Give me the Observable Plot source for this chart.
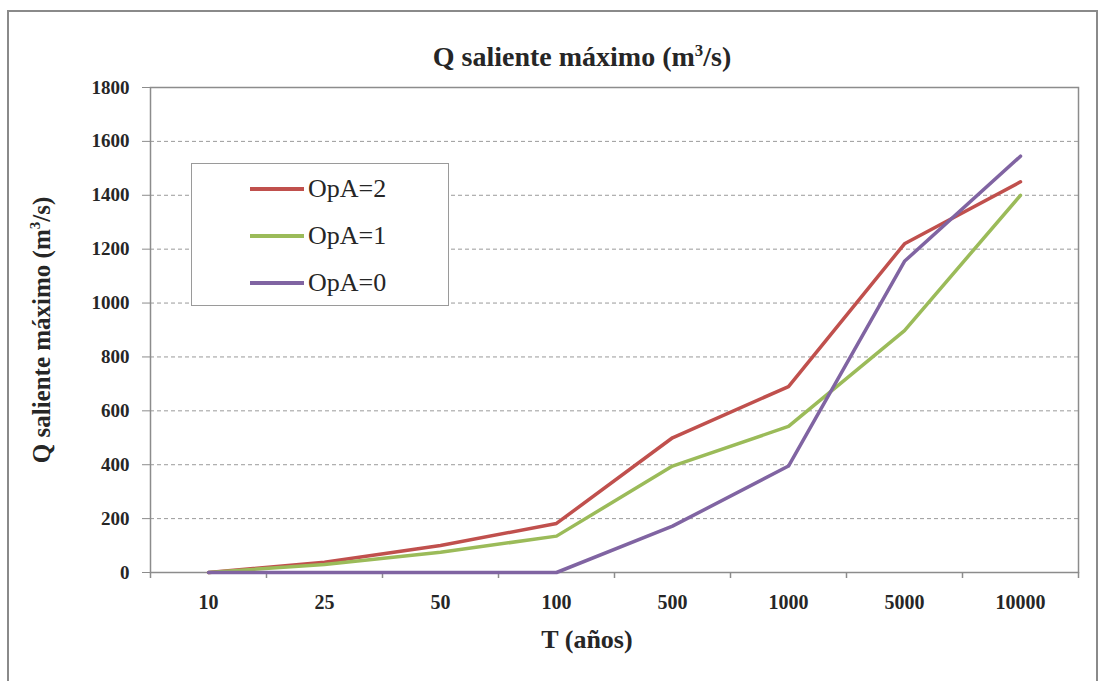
<!DOCTYPE html>
<html>
<head>
<meta charset="utf-8">
<script src="https://cdn.jsdelivr.net/npm/d3@7"></script>
<script src="https://cdn.jsdelivr.net/npm/@observablehq/plot@0.6"></script>
<style>
  html, body { margin: 0; padding: 0; background: #fff; overflow: hidden; }
  #wrap { position: relative; width: 1100px; height: 681px; font-family: "Liberation Serif", serif; color: #262626; }
  #frame { position: absolute; left: 7px; top: 10px; width: 1091px; height: 700px; border: 2px solid #8a8a8a; box-sizing: border-box; }
  #title { position: absolute; top: 57px; left: 582px; transform: translate(-50%, -50%); font-size: 28px; font-weight: bold; white-space: nowrap; line-height: 1; }
  #ytitle { position: absolute; left: 41px; top: 330px; transform: translate(-50%, -50%) rotate(-90deg); font-size: 25px; font-weight: bold; white-space: nowrap; line-height: 1; }
  #xtitle { position: absolute; left: 587px; top: 640px; transform: translate(-50%, -50%); font-size: 26px; font-weight: bold; white-space: nowrap; line-height: 1; }
  #chart { position: absolute; left: 0; top: 70px; }
  #chart svg { font-weight: bold; }
  #legend { position: absolute; left: 191px; top: 163px; width: 258px; height: 143px; border: 1.5px solid #9a9a9a; box-sizing: border-box; background: #fff; }
  .lrow { position: absolute; left: 58px; height: 30px; display: flex; align-items: center; transform: translateY(-50%); }
  .sw { width: 54px; height: 4px; margin-right: 4px; }
  .lt { font-size: 26px; line-height: 1; }
</style>
</head>
<body>
<div id="wrap">
  <div id="frame"></div>
  <div id="title">Q saliente máximo (m<sup style="font-size:0.6em;line-height:0">3</sup>/s)</div>
  <div id="ytitle">Q saliente máximo (m<sup style="font-size:0.6em;line-height:0">3</sup>/s)</div>
  <div id="xtitle">T (años)</div>
  <div id="chart"></div>
  <div id="legend"></div>
</div>
<script>
const categories = ["10", "25", "50", "100", "500", "1000", "5000", "10000"];
const seriesNames = ["OpA=2", "OpA=1", "OpA=0"];
const seriesColors = ["#C0504D", "#9BBB59", "#8064A2"];
const opA2 = [0, 38, 100, 182, 500, 690, 1220, 1450];
const opA1 = [0, 30, 75, 135, 395, 542, 898, 1400];
const opA0 = [0, 0, 0, 0, 172, 395, 1155, 1545];
const yTicks = [0, 200, 400, 600, 800, 1000, 1200, 1400, 1600, 1800];

const seriesValues = [opA2, opA1, opA0];
const rows = [];
seriesNames.forEach((name, s) => {
  categories.forEach((c, i) => rows.push({T: c, Q: seriesValues[s][i], serie: name}));
});

const W = 1100, H = 611, ML = 150, MR = 22, MT = 17, MB = 109;
const step = (W - ML - MR) / categories.length;
const gridVals = yTicks.filter(v => v > 0 && v < 1800);

const chart = Plot.plot({
  width: W, height: H,
  marginLeft: ML, marginRight: MR, marginTop: MT, marginBottom: MB,
  style: {fontFamily: "'Liberation Serif', serif", fontSize: "19px", background: "transparent", color: "#262626"},
  x: {type: "point", domain: categories, padding: 0.5, label: null},
  y: {domain: [0, 1800], label: null},
  color: {domain: seriesNames, range: seriesColors},
  marks: [
    Plot.ruleY(gridVals, {y: d => d, stroke: "#9a9a9a", strokeWidth: 1, strokeDasharray: "4,3"}),
    Plot.frame({stroke: "#8c8c8c", strokeWidth: 1.5}),
    Plot.axisY({ticks: yTicks, tickSize: 8, tickPadding: 13, stroke: "#8c8c8c", fill: "#262626", fontSize: 19, label: null, tickFormat: d => String(d)}),
    Plot.axisX({tickSize: 0, tickPadding: 22, fill: "#262626", fontSize: 20, label: null}),
    Plot.ruleX(categories, {x: d => d, y1: 0, y2: 0, insetBottom: -6, dx: step / 2, stroke: "#8c8c8c", strokeWidth: 1.5}),
    Plot.ruleX(categories.slice(0, 1), {x: d => d, y1: 0, y2: 0, insetBottom: -6, dx: -step / 2, stroke: "#8c8c8c", strokeWidth: 1.5}),
    Plot.line(rows, {x: "T", y: "Q", z: "serie", stroke: "serie", strokeWidth: 3.5, strokeLinejoin: "round", strokeLinecap: "round"})
  ]
});
document.getElementById("chart").appendChild(chart);

const legend = document.getElementById("legend");
const rowTops = [25, 72, 119];
seriesNames.forEach((name, i) => {
  const r = document.createElement("div");
  r.className = "lrow";
  r.style.top = rowTops[i] + "px";
  r.innerHTML = `<div class="sw" style="background:${seriesColors[i]}"></div><span class="lt">${name}</span>`;
  legend.appendChild(r);
});
</script>
</body>
</html>
